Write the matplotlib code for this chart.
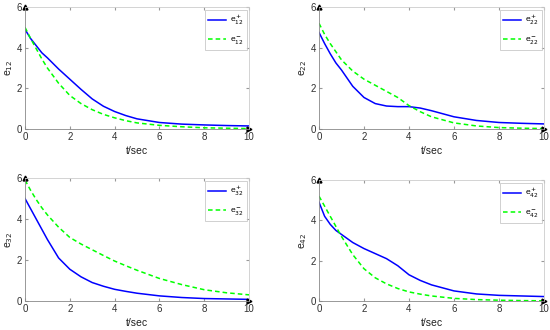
import matplotlib
matplotlib.use("Agg")
import matplotlib.pyplot as plt

# sampled time points
t = [0, 0.25, 0.5, 0.75, 1, 1.5, 2, 2.5, 3, 3.5, 4, 4.5, 5, 6, 7, 8, 9, 10]

# e12
e12_p = [4.9, 4.45, 4.1, 3.75, 3.5, 2.95, 2.45, 1.95, 1.48, 1.12, 0.86, 0.66, 0.5, 0.32, 0.24, 0.2, 0.17, 0.15]
e12_m = [5.0, 4.45, 3.95, 3.45, 3.0, 2.25, 1.65, 1.25, 0.95, 0.72, 0.55, 0.41, 0.3, 0.18, 0.11, 0.06, 0.04, 0.02]
# e22
e22_p = [4.75, 4.2, 3.7, 3.25, 2.9, 2.1, 1.55, 1.25, 1.13, 1.1, 1.1, 1.03, 0.9, 0.6, 0.42, 0.32, 0.28, 0.25]
e22_m = [5.2, 4.65, 4.2, 3.8, 3.4, 2.85, 2.45, 2.15, 1.85, 1.55, 1.15, 0.85, 0.6, 0.3, 0.15, 0.07, 0.04, 0.02]
# e32
e32_p = [5.0, 4.5, 4.0, 3.5, 3.0, 2.1, 1.55, 1.18, 0.9, 0.72, 0.57, 0.47, 0.38, 0.25, 0.17, 0.12, 0.1, 0.08]
e32_m = [5.9, 5.4, 4.95, 4.55, 4.2, 3.6, 3.1, 2.78, 2.5, 2.22, 1.95, 1.72, 1.5, 1.1, 0.8, 0.55, 0.4, 0.3]
# e42
e42_p = [4.9, 4.2, 3.8, 3.5, 3.3, 2.9, 2.6, 2.35, 2.1, 1.75, 1.3, 1.02, 0.8, 0.5, 0.35, 0.28, 0.25, 0.22]
e42_m = [5.2, 4.7, 4.2, 3.7, 3.2, 2.3, 1.6, 1.15, 0.85, 0.62, 0.45, 0.34, 0.25, 0.13, 0.07, 0.04, 0.02, 0.01]

series = [("12", e12_p, e12_m), ("22", e22_p, e22_m),
          ("32", e32_p, e32_m), ("42", e42_p, e42_m)]

# axes boxes in pixels (left, right, top, bottom)
boxes = [(25, 249, 7, 129), (319, 544, 7, 129),
         (25, 249, 178, 301), (319, 544, 180, 301)]

W, H = 550, 330
fig = plt.figure(figsize=(5.5, 3.3), dpi=100)
plt.rcParams['font.family'] = ['Liberation Sans', 'DejaVu Sans']

for (idx, yp, ym), (l, r, tp, b) in zip(series, boxes):
    ax = fig.add_axes([l / W, 1 - b / H, (r - l) / W, (b - tp) / H])
    ax.plot(t, yp, color="#0000ff", lw=1.1, label=r"e$^+_{%s}$" % idx)
    ax.plot(t, ym, color="#00ff00", lw=1.1, ls="--", dashes=(3, 2), label=r"e$^-_{%s}$" % idx)
    ax.set_xlim(0, 10)
    ax.set_ylim(0, 6)
    ax.set_xticks([0, 2, 4, 6, 8, 10])
    ax.set_yticks([0, 2, 4, 6])
    ax.tick_params(direction="in", length=2.5, labelsize=7, colors="#303030",
                   top=True, right=True, pad=2)
    ax.tick_params(color="#999999")
    for s in ["top", "right"]:
        ax.spines[s].set_color("#cccccc")
    for s in ["left", "bottom"]:
        ax.spines[s].set_color("#888888")
    for s in ax.spines.values():
        s.set_linewidth(0.6)
    ax.set_xlabel("t/sec", fontsize=7.5, labelpad=3, color="#202020")
    ax.set_ylabel(r"e$_{%s}$" % idx, fontsize=7.5, labelpad=1, color="#202020")
    # axis arrows
    ax.plot(0, 1, "^", color="k", ms=3.5, transform=ax.transAxes, clip_on=False)
    ax.plot(1, 0, ">", color="k", ms=3.5, transform=ax.transAxes, clip_on=False)
    leg = ax.legend(loc="upper right", fontsize=6, fancybox=False,
                    edgecolor="#bbbbbb", handlelength=2.2, borderpad=0.4,
                    labelspacing=0.9, borderaxespad=0.3, handletextpad=0.4)
    leg.get_frame().set_linewidth(0.6)

fig.savefig("out.png", dpi=100)
